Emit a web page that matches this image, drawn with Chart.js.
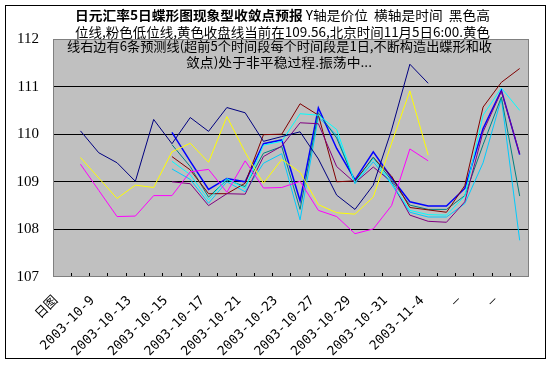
<!DOCTYPE html>
<html><head><meta charset="utf-8">
<script src="https://cdn.jsdelivr.net/npm/chart.js@4"></script>
<style>html,body{margin:0;padding:0;background:#fff}#wrap{width:551px;height:366px;position:relative}</style>
</head><body><div id="wrap"><canvas id="c"></canvas></div>
<script>
const categories = ['日图','2003-10-8','2003-10-9','2003-10-10','2003-10-13','2003-10-14','2003-10-15','2003-10-16','2003-10-17','2003-10-20','2003-10-21','2003-10-22','2003-10-23','2003-10-24','2003-10-27','2003-10-28','2003-10-29','2003-10-30','2003-10-31','2003-11-3','2003-11-4','—','—','—','—','—'];
const tickLabels = ['日图','','2003-10-9','','2003-10-13','','2003-10-15','','2003-10-17','','2003-10-21','','2003-10-23','','2003-10-27','','2003-10-29','','2003-10-31','','2003-11-4','','—','','—',''];
const yTicks = [107,108,109,110,111,112];

const titleBold = '日元汇率5日蝶形图现象型收敛点预报';
const titleRest = ' Y轴是价位  横轴是时间  黑色高';
const titleLines = ['位线,粉色低位线,黄色收盘线当前在109.56,北京时间11月5日6:00.黄色','线右边有6条预测线(超前5个时间段每个时间段是1日,不断构造出蝶形和收','敛点)处于非平稳过程.振荡中...'];

const highSeries  = [null,110.07,109.61,109.40,109.01,110.31,109.80,110.35,110.06,110.56,110.45,109.85,109.95,110.05,109.48,108.72,108.42,108.93,110.09,111.47,111.07,null,null,null,null,null];
const lowSeries   = [null,109.37,108.82,108.27,108.28,108.71,108.71,109.21,109.26,108.78,109.44,108.87,108.88,109.01,108.40,108.27,107.91,108.01,108.50,109.69,109.44,null,null,null,null,null];
const closeSeries = [null,109.51,109.08,108.65,108.93,108.88,109.63,109.81,109.41,110.37,109.62,108.97,109.47,109.20,108.52,108.35,108.32,108.68,109.81,110.91,109.56,null,null,null,null,null];

const forecast1 = [null,null,null,null,null,null,109.43,109.15,108.62,109.07,108.86,109.77,109.85,110.43,110.40,110.10,108.98,109.49,108.97,108.40,108.31,108.30,108.70,110.40,110.97,110.50];
const forecast2 = [null,null,null,null,null,null,109.00,108.96,108.50,108.75,108.74,109.53,109.75,110.24,110.22,109.32,108.98,109.31,109.00,108.30,108.17,108.15,108.58,110.05,110.90,109.59];
const forecast3 = [null,null,null,null,null,null,109.53,109.25,108.75,108.75,108.97,109.99,110.00,110.64,110.40,109.00,109.02,109.50,109.12,108.46,108.41,108.36,108.92,110.57,111.09,111.38];
const forecast4 = [null,null,null,null,null,null,109.78,109.32,108.68,109.04,108.90,109.60,109.74,108.42,110.45,109.92,109.00,109.52,109.03,108.51,108.42,108.42,108.71,109.78,110.78,108.70];
const forecast5 = [null,null,null,null,null,null,110.04,109.43,108.84,109.07,109.00,109.80,109.88,108.60,110.55,109.70,109.04,109.63,109.08,108.58,108.49,108.49,108.86,110.12,110.92,109.57];
const forecast6 = [null,null,null,null,null,null,109.27,109.05,108.55,109.00,108.79,109.39,109.59,108.20,110.36,109.98,108.96,109.42,108.95,108.36,108.26,108.26,108.54,109.40,110.75,107.77];

function ds(label, data, color, w) {
  return {label, data, borderColor: color, backgroundColor: color, borderWidth: w || 1, pointRadius: 0, tension: 0, fill: false};
}

function fitText(c, parts, x0, x1, y) {
  let total = 0;
  parts.forEach(p => { c.font = p.font; p.w = c.measureText(p.text).width; total += p.w; });
  const k = (x1 - x0) / total;
  c.save();
  c.translate(x0, y);
  c.scale(k, 1);
  let x = 0;
  parts.forEach(p => { c.font = p.font; c.fillText(p.text, x, 0); x += p.w; });
  c.restore();
}

const decor = {
  id: 'decor',
  beforeDraw(chart) {
    const c = chart.ctx, a = chart.chartArea;
    c.save();
    c.fillStyle = '#fff';
    c.fillRect(0, 0, chart.width, chart.height);
    c.fillStyle = '#C0C0C0';
    c.fillRect(a.left, a.top, a.right - a.left, a.bottom - a.top);
    c.restore();
  },
  beforeDatasetsDraw(chart) {
    const c = chart.ctx, a = chart.chartArea;
    c.save();
    c.strokeStyle = '#808080';
    c.lineWidth = 1;
    c.strokeRect(Math.round(a.left) + 0.5, Math.round(a.top) + 0.5, Math.round(a.right - a.left) - 1, Math.round(a.bottom - a.top) - 1);
    c.restore();
  },
  afterDraw(chart) {
    const c = chart.ctx;
    c.save();
    c.strokeStyle = '#000';
    c.lineWidth = 1;
    c.strokeRect(5.5, 5.5, 540, 353);
    c.fillStyle = '#000';
    c.textBaseline = 'middle';
    c.textAlign = 'left';
    const bold = 'bold 13px "Noto Sans CJK SC"';
    const norm = '13px "Noto Sans CJK SC"';
    fitText(c, [{text: titleBold, font: bold}, {text: titleRest, font: norm}], 75, 490, 15);
    fitText(c, [{text: titleLines[0], font: norm}], 75, 490, 32);
    fitText(c, [{text: titleLines[1], font: norm}], 67, 492, 46);
    fitText(c, [{text: titleLines[2], font: norm}], 186, 372, 62);
    c.restore();
  }
};

new Chart(document.getElementById('c'), {
  type: 'line',
  data: {
    labels: categories,
    datasets: [
      ds('高位线', highSeries, '#000080'),
      ds('低位线', lowSeries, '#FF00FF'),
      ds('收盘线', closeSeries, '#FFFF00'),
      ds('预测1', forecast1, '#00FFFF'),
      ds('预测2', forecast2, '#800080'),
      ds('预测3', forecast3, '#800000'),
      ds('预测4', forecast4, '#008080'),
      ds('预测5', forecast5, '#0000FF', 1.5),
      ds('预测6', forecast6, '#00CCFF')
    ]
  },
  options: {
    animation: false,
    responsive: true,
    maintainAspectRatio: false,
    layout: {padding: {top: 39, right: 15, left: 0, bottom: 0}},
    plugins: {legend: {display: false}, tooltip: {enabled: false}, title: {display: false}},
    scales: {
      x: {
        type: 'category',
        offset: true,
        grid: {display: true, offset: true, drawOnChartArea: false, drawTicks: true, tickLength: -4, color: '#000'},
        border: {display: false},
        ticks: {
          autoSkip: false, maxRotation: 45, minRotation: 45, padding: 20, labelOffset: -6,
          color: '#000', font: {family: '"DejaVu Sans Mono", "Noto Sans CJK SC"', size: 13},
          callback: (v, i) => tickLabels[i]
        },
        afterFit(s) { s.height = 89; }
      },
      y: {
        min: 107, max: 112,
        afterBuildTicks(s) { s.ticks = yTicks.map(v => ({value: v})); },
        grid: {drawTicks: false, color: ctx => (ctx.tick && (ctx.tick.value === 107 || ctx.tick.value === 112)) ? 'rgba(0,0,0,0)' : '#000'},
        border: {display: false},
        ticks: {padding: 14, color: '#000', font: {family: '"Liberation Serif"', size: 15}},
        afterFit(s) { s.width = 53; }
      }
    }
  },
  plugins: [decor]
});
</script>
</body></html>
